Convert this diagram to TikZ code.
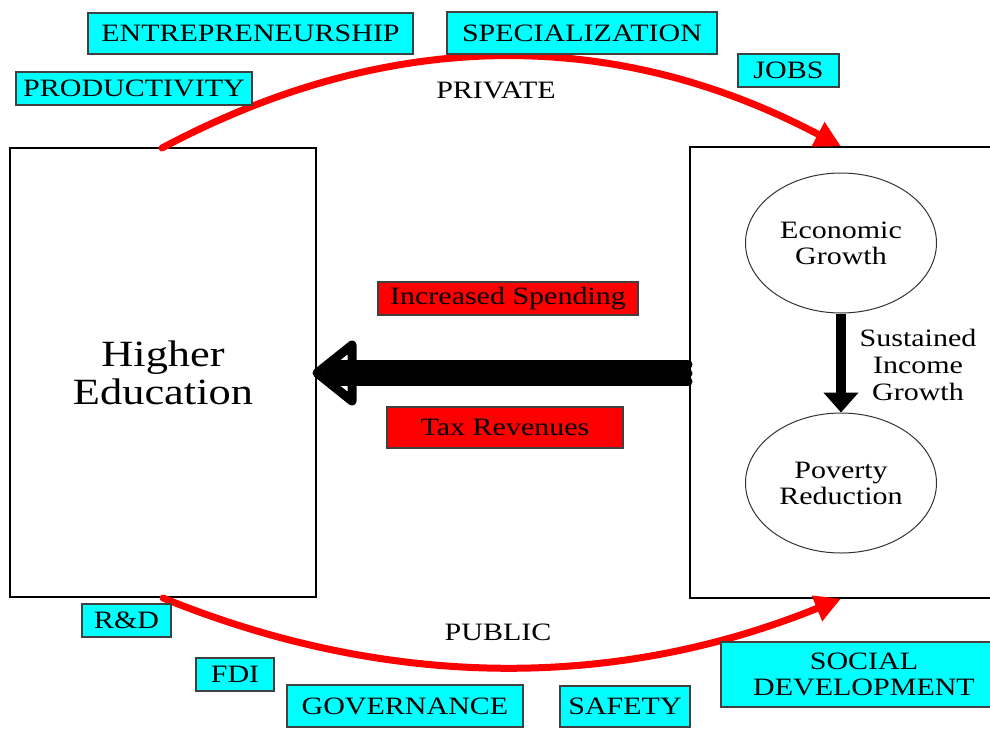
\documentclass[tikz,border=0pt]{standalone}
\usepackage{fontspec}
\setmainfont{Liberation Serif}[FakeStretch=1.2]
\usetikzlibrary{arrows.meta,calc,shapes.geometric}
\definecolor{boxcyan}{RGB}{0,255,255}
\definecolor{boxred}{RGB}{255,0,0}
\begin{document}
\begin{tikzpicture}[x=1pt,y=-1pt,
  tag/.style={draw=black!75,line width=1.2pt,fill=boxcyan,inner sep=0pt,
    font=\fontsize{25}{26}\selectfont,align=center},
  redtag/.style={draw=black!75,line width=1.2pt,fill=boxred,inner sep=0pt,
    font=\fontsize{25}{26}\selectfont},
  bigbox/.style={draw=black,line width=1.3pt,inner sep=0pt},
  oval/.style={draw=black!80,line width=1pt,ellipse,inner sep=0pt,
    minimum width=191pt,minimum height=140pt,align=center,
    font=\fontsize{25}{26}\selectfont},
  plain/.style={inner sep=0pt,font=\fontsize{25}{27}\selectfont,align=center},
  flow/.style={draw=boxred,line width=7pt,line cap=round,
    -{Triangle[length=26pt,width=26pt]}}
]
\useasboundingbox (0,0) rectangle (990,729);
\fill[white] (0,0) rectangle (990,729);

% main boxes
\node[bigbox,minimum width=306pt,minimum height=449pt,
  font=\fontsize{37}{38}\selectfont,align=center] (he) at (163,372.5) {Higher\\Education};
\node[bigbox,minimum width=320pt,minimum height=451pt] (rb) at (850,372.5) {};
\node[oval] (eg) at (841,243) {Economic\\Growth};
\node[oval] (pr) at (841,483) {Poverty\\Reduction};
\node[plain] (sig) at (918,365) {Sustained\\Income\\Growth};

% growth arrow
\draw[line width=10pt,-{Triangle[length=20pt,width=34pt]}]
  (eg.south) -- (pr.north);

% red flows
\coordinate (ps) at (162,148);
\coordinate (pe) at (eg.north |- rb.north);
\coordinate (us) at (163,598);
\coordinate (ue) at (eg.south |- rb.south);
\draw[flow] (ps) .. controls (389,27) and (615,27) .. (pe);
\draw[flow] (us) .. controls (389,690) and (616,690) .. (ue);

\node[plain] (priv) at (496,90) {PRIVATE};
\node[plain] (pub) at (498,632) {PUBLIC};

% big black arrow from right box to left box
\coordinate (bs) at (688,373);
\coordinate (bt) at (317,373);
\draw[line width=9pt,line join=round,fill=white]
  (bt) -- ($(bt)+(35,-28)$) -- ($(bt)+(35,28)$) -- cycle;
\foreach \dy in {-8.5,0,8.5}
  \draw[line width=9pt,line cap=round] ($(bs)+(0,\dy)$) -- ($(bt)+(12,\dy)$);

% red boxes
\node[redtag,minimum width=260pt,minimum height=33pt] (is) at (508,298.5) {Increased Spending};
\node[redtag,minimum width=236pt,minimum height=41pt] (tr) at (505,427.5) {Tax Revenues};

% cyan tags
\node[tag,minimum width=325pt,minimum height=41pt] (ent) at (250.5,33.5) {ENTREPRENEURSHIP};
\node[tag,minimum width=270pt,minimum height=42pt] (spec) at (582,33) {SPECIALIZATION};
\node[tag,minimum width=236pt,minimum height=33pt] (prod) at (134,88.5) {PRODUCTIVITY};
\node[tag,minimum width=101pt,minimum height=33pt] (jobs) at (788.5,70.5) {JOBS};
\node[tag,minimum width=89pt,minimum height=33pt] (rd) at (126.5,620.5) {R\&D};
\node[tag,minimum width=78pt,minimum height=33pt] (fdi) at (235,674.5) {FDI};
\node[tag,minimum width=236pt,minimum height=42pt] (gov) at (405,706) {GOVERNANCE};
\node[tag,minimum width=130pt,minimum height=41pt] (saf) at (625,706.5) {SAFETY};
\node[tag,minimum width=286pt,minimum height=65pt] (soc) at (864,674.5) {SOCIAL\\DEVELOPMENT};
\end{tikzpicture}
\end{document}
